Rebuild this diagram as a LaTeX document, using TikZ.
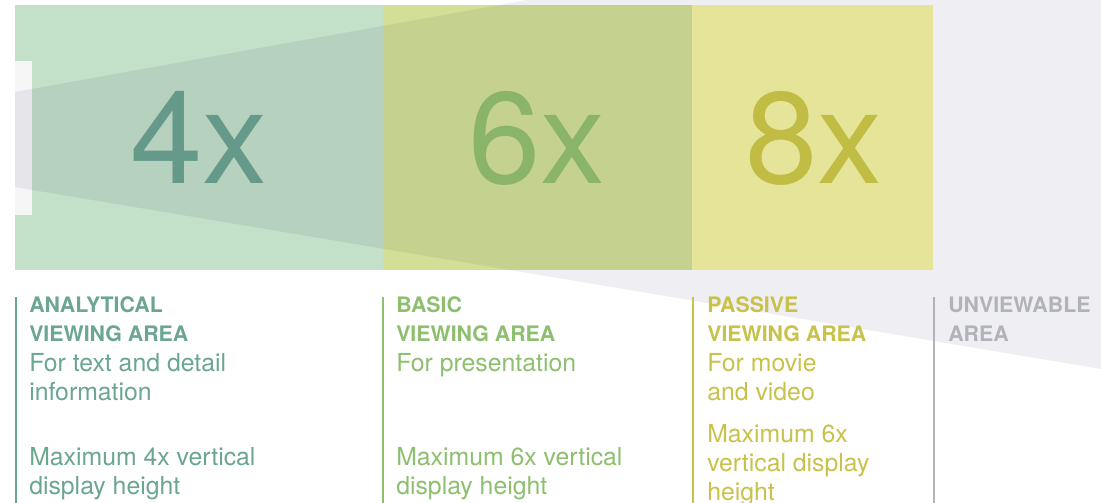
\documentclass[tikz,border=0pt]{standalone}
\usepackage{fontspec}
\setmainfont{TeX Gyre Heros}
\definecolor{boxA}{HTML}{C3E0C8}
\definecolor{boxB}{HTML}{D3DF96}
\definecolor{boxC}{HTML}{F5F4A0}
\definecolor{panel}{HTML}{F6F6F6}
\definecolor{wedgec}{HTML}{EFEFF3}
\definecolor{numA}{HTML}{65998A}
\definecolor{numB}{HTML}{8BB46B}
\definecolor{numC}{HTML}{C1BC44}
\definecolor{txtA}{HTML}{6BA690}
\definecolor{txtB}{HTML}{8DBF6F}
\definecolor{txtC}{HTML}{C9C24A}
\definecolor{txtD}{HTML}{B0B3B8}
\begin{document}
\begin{tikzpicture}[x=0.75pt,y=-0.75pt,
  hdr/.style={anchor=base west, inner sep=0pt, font=\fontsize{16}{18}\selectfont\bfseries},
  bdy/.style={anchor=base west, inner sep=0pt, font=\fontsize{18.6}{20}\selectfont},
  big/.style={anchor=base, inner sep=0pt, font=\fontsize{97.5}{100}\selectfont},
  rule/.style={line width=1.5pt}]
\useasboundingbox (0,0) rectangle (1101,503);
\fill[white] (0,0) rectangle (1101,503);
% zone boxes
\fill[boxA] (15,5) rectangle (383,270);
\fill[boxB] (383,5) rectangle (692,270);
\fill[boxC] (692,5) rectangle (933,270);
\fill[panel] (15,61) rectangle (32,215);
% viewing wedge
\fill[wedgec, blend mode=multiply] (15,92) -- (527,0) -- (1101,0) -- (1101,369) -- (15,187) -- cycle;
% big numbers
\node[big, text=numA] (n4) at (199,184) {4x};
\node[big, text=numB] (n6) at (537,184) {6x};
\node[big, text=numC] (n8) at (814,184) {8x};
% rules
\coordinate (a1) at (16,297); \coordinate (a2) at (16,503);
\coordinate (b1) at (383,297); \coordinate (b2) at (383,503);
\coordinate (c1) at (693,297); \coordinate (c2) at (693,503);
\coordinate (d1) at (934,297); \coordinate (d2) at (934,503);
\draw[rule, txtA] (a1) -- (a2);
\draw[rule, txtB] (b1) -- (b2);
\draw[rule, txtC] (c1) -- (c2);
\draw[rule, txtD] (d1) -- (d2);
% analytical
\node[hdr, text=txtA] (a-h1) at (29,312) {ANALYTICAL};
\node[hdr, text=txtA] (a-h2) at (29,341) {VIEWING AREA};
\node[bdy, text=txtA] (a-b1) at (29,371) {For text and detail};
\node[bdy, text=txtA] (a-b2) at (29,400) {information};
\node[bdy, text=txtA] (a-m1) at (29,465) {Maximum 4x vertical};
\node[bdy, text=txtA] (a-m2) at (29,494) {display height};
% basic
\node[hdr, text=txtB] (b-h1) at (396,312) {BASIC};
\node[hdr, text=txtB] (b-h2) at (396,341) {VIEWING AREA};
\node[bdy, text=txtB] (b-b1) at (396,371) {For presentation};
\node[bdy, text=txtB] (b-m1) at (396,465) {Maximum 6x vertical};
\node[bdy, text=txtB] (b-m2) at (396,494) {display height};
% passive
\node[hdr, text=txtC] (c-h1) at (707,312) {PASSIVE};
\node[hdr, text=txtC] (c-h2) at (707,341) {VIEWING AREA};
\node[bdy, text=txtC] (c-b1) at (707,371) {For movie};
\node[bdy, text=txtC] (c-b2) at (707,400) {and video};
\node[bdy, text=txtC] (c-m1) at (707,442) {Maximum 6x};
\node[bdy, text=txtC] (c-m2) at (707,471) {vertical display};
\node[bdy, text=txtC] (c-m3) at (707,500) {height};
% unviewable
\node[hdr, text=txtD] (d-h1) at (948,312) {UNVIEWABLE};
\node[hdr, text=txtD] (d-h2) at (948,341) {AREA};
\end{tikzpicture}
\end{document}
